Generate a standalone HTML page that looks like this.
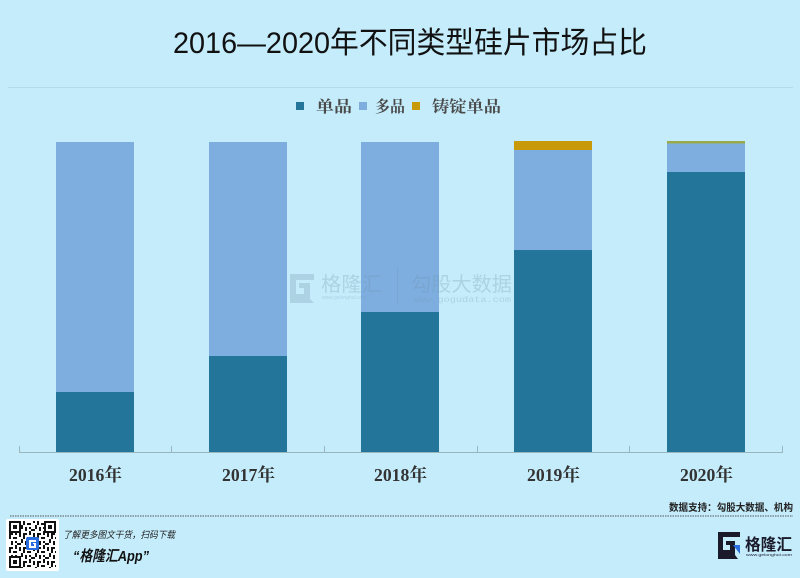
<!DOCTYPE html>
<html><head><meta charset="utf-8">
<style>
html,body{margin:0;padding:0;}
body{width:800px;height:578px;background:#c4ecfb;overflow:hidden;position:relative;}
svg{position:absolute;left:0;top:0;}
</style></head>
<body>
<svg width="800" height="578" viewBox="0 0 800 578" xmlns="http://www.w3.org/2000/svg">
<defs>
<pattern id="qr" x="9" y="521" width="14" height="14" patternUnits="userSpaceOnUse">
<rect width="14" height="14" fill="#fff"/>
<rect x="0" y="0" width="2" height="4" fill="#111"/>
<rect x="4" y="2" width="4" height="2" fill="#111"/>
<rect x="10" y="0" width="2" height="2" fill="#111"/>
<rect x="2" y="6" width="2" height="4" fill="#111"/>
<rect x="6" y="6" width="2" height="2" fill="#111"/>
<rect x="8" y="8" width="4" height="2" fill="#111"/>
<rect x="12" y="4" width="2" height="4" fill="#111"/>
<rect x="0" y="12" width="4" height="2" fill="#111"/>
<rect x="6" y="10" width="2" height="4" fill="#111"/>
<rect x="10" y="12" width="2" height="2" fill="#111"/>
</pattern>
</defs>
<rect width="800" height="578" fill="#c4ecfb"/>

<!-- title -->
<text x="173" y="53" font-family="Liberation Sans, Noto Sans CJK SC, sans-serif" font-size="30" fill="#111" textLength="474" lengthAdjust="spacingAndGlyphs">2016—2020年不同类型硅片市场占比</text>
<line x1="8" y1="87.5" x2="793" y2="87.5" stroke="#b2dcec" stroke-width="1"/>

<!-- legend -->
<g font-family="Liberation Serif, Noto Serif CJK SC, serif" font-weight="bold" font-size="16" fill="#4a4a4a">
<rect x="296" y="102" width="8" height="8" fill="#23769a"/>
<text x="316" y="112" textLength="36" lengthAdjust="spacingAndGlyphs">单品</text>
<rect x="359" y="102" width="8" height="8" fill="#7eaee0"/>
<text x="375" y="112" textLength="30" lengthAdjust="spacingAndGlyphs">多品</text>
<rect x="412" y="102" width="8" height="8" fill="#c89a0a"/>
<text x="432" y="112" textLength="69" lengthAdjust="spacingAndGlyphs">铸锭单品</text>
</g>

<!-- bars -->
<g>
<rect x="56" y="142" width="78" height="250" fill="#7eaee0"/>
<rect x="56" y="392" width="78" height="60" fill="#23769a"/>

<rect x="209" y="142" width="78" height="214" fill="#7eaee0"/>
<rect x="209" y="356" width="78" height="96" fill="#23769a"/>

<rect x="361" y="142" width="78" height="170" fill="#7eaee0"/>
<rect x="361" y="312" width="78" height="140" fill="#23769a"/>

<rect x="514" y="141" width="78" height="9" fill="#c89a0a"/>
<rect x="514" y="150" width="78" height="100" fill="#7eaee0"/>
<rect x="514" y="250" width="78" height="202" fill="#23769a"/>

<rect x="667" y="141" width="78" height="2.5" fill="#9aa94a"/>
<rect x="667" y="143.5" width="78" height="28.5" fill="#7eaee0"/>
<rect x="667" y="172" width="78" height="280" fill="#23769a"/>
</g>

<!-- axis -->
<g stroke="#9cb6c0" stroke-width="1">
<line x1="19" y1="452.5" x2="783" y2="452.5"/>
<line x1="19.5" y1="446" x2="19.5" y2="453"/>
<line x1="171.5" y1="446" x2="171.5" y2="453"/>
<line x1="324.5" y1="446" x2="324.5" y2="453"/>
<line x1="477.5" y1="446" x2="477.5" y2="453"/>
<line x1="629.5" y1="446" x2="629.5" y2="453"/>
<line x1="782.5" y1="446" x2="782.5" y2="453"/>
</g>

<!-- x labels -->
<g font-family="Liberation Serif, Noto Serif CJK SC, serif" font-weight="bold" font-size="18" fill="#333">
<text x="69" y="481" textLength="53" lengthAdjust="spacingAndGlyphs">2016年</text>
<text x="222" y="481" textLength="53" lengthAdjust="spacingAndGlyphs">2017年</text>
<text x="374" y="481" textLength="53" lengthAdjust="spacingAndGlyphs">2018年</text>
<text x="527" y="481" textLength="53" lengthAdjust="spacingAndGlyphs">2019年</text>
<text x="680" y="481" textLength="53" lengthAdjust="spacingAndGlyphs">2020年</text>
</g>

<!-- watermark -->
<g opacity="0.28" fill="#6f93aa">
<path d="M290 274 h24 v6 h-18 v14 h8 v-6 h-5 v-5 h11 v16 l4 4 h-24 z" />
<text x="321" y="291" font-family="Liberation Sans, Noto Sans CJK SC, sans-serif" font-size="20" textLength="61" lengthAdjust="spacingAndGlyphs">格隆汇</text>
<text x="322" y="299" font-family="Liberation Sans, sans-serif" font-size="5">www.gelonghui.com</text>
<rect x="397" y="268" width="1" height="37"/>
<text x="411" y="291" font-family="Liberation Sans, Noto Sans CJK SC, sans-serif" font-size="20" textLength="101" lengthAdjust="spacingAndGlyphs">勾股大数据</text>
<text x="413" y="302" font-family="Liberation Mono, monospace" font-size="8" textLength="98" lengthAdjust="spacingAndGlyphs">www.gogudata.com</text>
</g>

<!-- source -->
<text x="793" y="511" text-anchor="end" font-family="Liberation Sans, Noto Sans CJK SC, sans-serif" font-weight="bold" font-size="10" fill="#222" textLength="124" lengthAdjust="spacingAndGlyphs">数据支持：勾股大数据、机构</text>
<line x1="10" y1="516" x2="793" y2="516" stroke="#555" stroke-width="1" stroke-dasharray="1.5,1"/>

<!-- footer QR -->
<rect x="6" y="519" width="53" height="52" rx="2" fill="#fff"/>
<rect x="9" y="521" width="47" height="47" fill="url(#qr)"/>
<g fill="#111">
<rect x="9" y="521" width="12" height="12"/><rect x="11" y="523" width="8" height="8" fill="#fff"/><rect x="13" y="525" width="4" height="4"/>
<rect x="44" y="521" width="12" height="12"/><rect x="46" y="523" width="8" height="8" fill="#fff"/><rect x="48" y="525" width="4" height="4"/>
<rect x="9" y="556" width="12" height="12"/><rect x="11" y="558" width="8" height="8" fill="#fff"/><rect x="13" y="560" width="4" height="4"/>
</g>
<rect x="26" y="537" width="13" height="13" rx="2" fill="#2a6de0"/>
<path d="M29 540 h7 v2 h-5 v4 h3 v-2 h-1 v-1 h3 v5 h-7 z" fill="#fff"/>

<text x="63" y="538" font-family="Liberation Sans, Noto Sans CJK SC, sans-serif" font-size="9.5" font-style="italic" fill="#222" textLength="112" lengthAdjust="spacingAndGlyphs">了解更多图文干货，扫码下载</text>
<text x="73" y="561" font-family="Liberation Sans, Noto Sans CJK SC, sans-serif" font-size="15" font-weight="bold" font-style="italic" fill="#111" textLength="76" lengthAdjust="spacingAndGlyphs">“格隆汇App”</text>

<!-- logo right -->
<path d="M718 532 h22 v5 h-17 v13 h7 v-5 h-4 v-4 h9 v14 l3 4 h-20 z" fill="#1a1a2a"/>
<path d="M733 545 h7 v9 z" fill="#2a6de0"/>
<text x="745" y="550" font-family="Liberation Sans, Noto Sans CJK SC, sans-serif" font-size="16" font-weight="bold" fill="#1a1a2a" textLength="47" lengthAdjust="spacingAndGlyphs">格隆汇</text>
<text x="746" y="556" font-family="Liberation Sans, sans-serif" font-size="4" fill="#1a1a2a" textLength="46" lengthAdjust="spacingAndGlyphs">www.gelonghui.com</text>
</svg>
</body></html>
